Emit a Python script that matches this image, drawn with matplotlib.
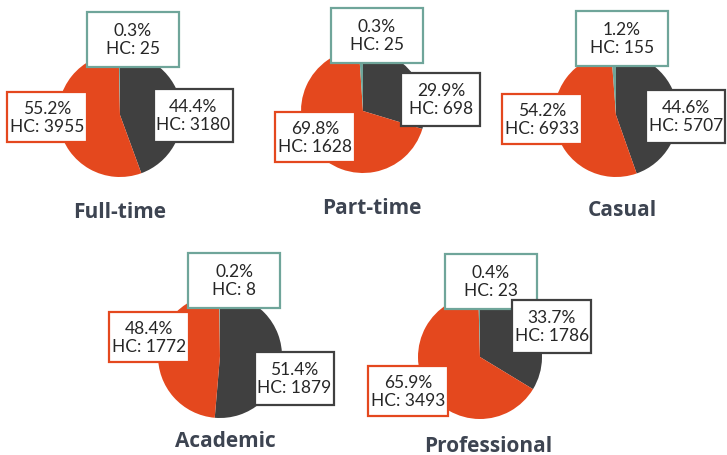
import matplotlib
matplotlib.use("Agg")
import matplotlib.pyplot as plt
from matplotlib.patches import Rectangle

W, H = 727, 456

groups = ["Full-time", "Part-time", "Casual", "Academic", "Professional"]
# headcounts per group: dark segment, orange segment, teal segment
hc_dark = [3180, 698, 5707, 1879, 1786]
hc_orange = [3955, 1628, 6933, 1772, 3493]
hc_teal = [25, 25, 155, 8, 23]
pct_dark = [44.4, 29.9, 44.6, 51.4, 33.7]
pct_orange = [55.2, 69.8, 54.2, 48.4, 65.9]
pct_teal = [0.3, 0.3, 1.2, 0.2, 0.4]

DARK = "#404040"
ORANGE = "#E4481E"
TEAL = "#6FA59A"
TITLE = "#3D4451"

# layout in pixel units (y measured from top)
centers = [(120, 116), (363, 112), (616, 116), (220, 357), (480, 358)]
radius = 62
title_pos = [(120, 212), (372, 209), (622, 210), (225, 442), (488, 447)]
lbl_dark = [(193, 116), (441, 100), (686, 117), (294, 379), (552, 327)]
lbl_orange = [(47, 118), (315, 138), (542, 120), (149, 338), (408, 392)]
lbl_teal = [(133, 40), (377, 36), (622, 39), (234, 281), (491, 282)]

fig = plt.figure(figsize=(W / 100, H / 100), dpi=100)
ax = fig.add_axes([0, 0, 1, 1])

def box_label(x, y, text, edge, w, h):
    ax.add_patch(Rectangle((x - w / 2, H - y - h / 2), w, h, fc="white",
                           ec=edge, lw=1.6, zorder=4))
    ax.text(x, H - y, text, ha="center", va="center", fontsize=12.5,
            family="Lato", color="#262626", linespacing=1.15, zorder=5)

for i, g in enumerate(groups):
    cx, cy = centers[i]
    ax.pie([hc_dark[i], hc_orange[i], hc_teal[i]],
           colors=[DARK, ORANGE, TEAL], startangle=90, counterclock=False,
           center=(cx, H - cy), radius=radius, frame=True,
           wedgeprops=dict(linewidth=0))
    box_label(*lbl_teal[i], f"{pct_teal[i]}%\nHC: {hc_teal[i]}", TEAL, 92, 55)
    box_label(*lbl_orange[i], f"{pct_orange[i]}%\nHC: {hc_orange[i]}", ORANGE, 80, 50)
    box_label(*lbl_dark[i], f"{pct_dark[i]}%\nHC: {hc_dark[i]}", DARK, 79, 53)
    tx, ty = title_pos[i]
    ax.text(tx, H - ty, g, ha="center", va="center", fontsize=15,
            family="Open Sans", fontweight="bold", color=TITLE)

ax.set_xlim(0, W)
ax.set_ylim(0, H)
ax.set_aspect("equal")
ax.axis("off")

fig.savefig("out.png", dpi=100)
